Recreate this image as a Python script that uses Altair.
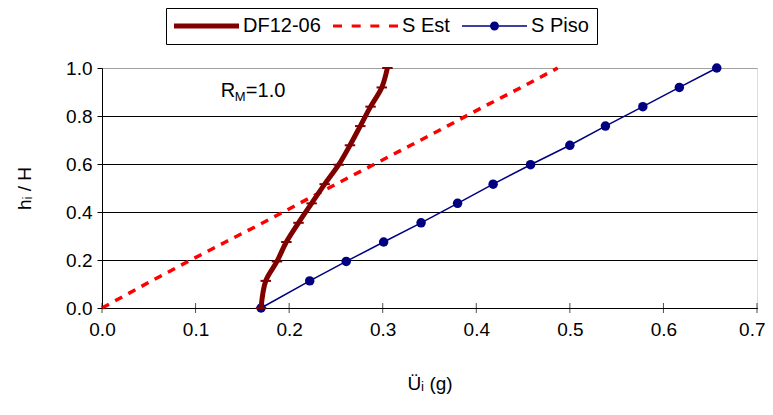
import altair as alt
import pandas as pd

# ---- data ----
heights = [0.0, 0.113, 0.194, 0.275, 0.355, 0.436, 0.516, 0.597, 0.678, 0.758, 0.839, 0.919, 1.0]
df12_06 = [0.170, 0.175, 0.187, 0.197, 0.210, 0.224, 0.238, 0.253, 0.265, 0.276, 0.287, 0.299, 0.305]
s_est = [0.0, 0.053, 0.092, 0.132, 0.172, 0.211, 0.250, 0.290, 0.330, 0.369, 0.408, 0.448, 0.487]
s_piso = [0.170, 0.222, 0.261, 0.301, 0.341, 0.380, 0.418, 0.458, 0.500, 0.538, 0.578, 0.617, 0.657]
series_names = ["DF12-06", "S Est", "S Piso"]
x_ticks = [0.0, 0.1, 0.2, 0.3, 0.4, 0.5, 0.6, 0.7]
y_ticks = [0.0, 0.2, 0.4, 0.6, 0.8, 1.0]
annotation = ["R", "M", "=1.0"]
x_title = "Üᵢ (g)"
y_title = "hᵢ / H"

FONT = "Liberation Sans"
colors = ["#800000", "#FF0000", "#000080"]

rows = []
for name, vals in zip(series_names, [df12_06, s_est, s_piso]):
    for xv, hv in zip(vals, heights):
        rows.append({"series": name, "acc": xv, "h": hv})
data = pd.DataFrame(rows)
ticks_df = pd.DataFrame({"t": x_ticks})

x_scale = alt.Scale(domain=[0, 0.7], nice=False, zero=False)
y_scale = alt.Scale(domain=[0, 1], nice=False, zero=False)

x_axis = alt.Axis(
    values=x_ticks, format=".1f", title=x_title, grid=False, ticks=False,
    labelFlush=False,
    labelAlign={"condition": {"test": "datum.value >= 0.69", "value": "right"}, "value": "center"},
    labelOffset={"condition": {"test": "datum.value >= 0.69", "value": 8}, "value": 0},
    domainColor="black", labelColor="black", labelFont=FONT, labelFontSize=19,
    labelPadding=12, titleFont=FONT, titleFontSize=19, titleFontWeight="normal",
    titleColor="black", titleX=327.5, titleY=75, titleBaseline="middle",
)
y_axis = alt.Axis(
    values=y_ticks, format=".1f", title=y_title, grid=True, labelFlush=False,
    gridColor={"condition": {"test": "datum.value >= 0.99", "value": "#a0a0a0"}, "value": "black"},
    gridWidth=1, domainColor="black", tickColor="black", tickSize=5,
    labelColor="black", labelFont=FONT, labelFontSize=19, labelPadding=5,
    titleFont=FONT, titleFontSize=19, titleFontWeight="normal", titleColor="black",
    titleX=-78, titleY=120, titleAngle=-90, titleBaseline="middle", titleAlign="center",
)

# legend symbols drawn as filled paths; unit = 10 px (symbolSize 400)
sym_df = "M-3.25,-0.25H3.25V0.25H-3.25Z"
sym_est = ("M-3.25,-0.15H-2.35V0.15H-3.25Z"
           "M-1.383,-0.15H-0.483V0.15H-1.383Z"
           "M0.483,-0.15H1.383V0.15H0.483Z"
           "M2.35,-0.15H3.25V0.15H2.35Z")
sym_piso = ("M-3.25,-0.075H3.25V0.075H-3.25Z"
            "M0.45,0A0.45,0.45 0 1,1 -0.45,0A0.45,0.45 0 1,1 0.45,0Z")

legend = alt.Legend(
    title=None, orient="none", legendX=64, legendY=-60, direction="horizontal",
    strokeColor="black", fillColor="white", padding=8, cornerRadius=0,
    labelFont=FONT, labelFontSize=20, labelColor="black",
    symbolSize=400, symbolOffset=22.5, labelOffset=26.5,
    columnPadding=12, symbolStrokeWidth=0, symbolOpacity=1,
)

base = alt.Chart(data)


def series_line(name, color, width, dash, interp):
    kw = dict(color=color, strokeWidth=width, strokeJoin="round", interpolate=interp)
    if dash:
        kw["strokeDash"] = dash
    return base.transform_filter(f"datum.series === '{name}'").mark_line(**kw).encode(
        x=alt.X("acc:Q", scale=x_scale, axis=x_axis),
        y=alt.Y("h:Q", scale=y_scale, axis=y_axis),
        order=alt.Order("h:Q"),
    )


line_df = series_line("DF12-06", colors[0], 5, None, "catmull-rom")
line_est = series_line("S Est", colors[1], 3.5, [8, 7], "linear")
line_piso = series_line("S Piso", colors[2], 1.5, None, "linear")

df_markers = base.transform_filter("datum.series === 'DF12-06'").mark_point(
    shape="stroke", size=110, strokeWidth=2, color=colors[0], filled=False, opacity=1
).encode(x="acc:Q", y="h:Q")

piso_markers = base.transform_filter("datum.series === 'S Piso'").mark_circle(
    size=90, color=colors[2], opacity=1
).encode(x="acc:Q", y="h:Q")

legend_layer = base.transform_filter("false").mark_point(filled=True, opacity=1).encode(
    x="acc:Q", y="h:Q",
    color=alt.Color("series:N", scale=alt.Scale(domain=series_names, range=colors), legend=legend),
    shape=alt.Shape("series:N", scale=alt.Scale(domain=series_names, range=[sym_df, sym_est, sym_piso]), legend=legend),
)

x_cross_ticks = alt.Chart(ticks_df).mark_tick(
    orient="vertical", size=10, thickness=1, color="black"
).encode(x=alt.X("t:Q"), y=alt.datum(0))

ann_data = alt.Data(values=[{}])
ann_r = alt.Chart(ann_data).mark_text(
    text=annotation[0], font=FONT, fontSize=20, align="left", baseline="alphabetic", color="black"
).encode(x=alt.datum(0.127), y=alt.datum(0.879))
ann_m = alt.Chart(ann_data).mark_text(
    text=annotation[1], font=FONT, fontSize=13, align="left", baseline="alphabetic", color="black", dx=14, dy=4
).encode(x=alt.datum(0.127), y=alt.datum(0.879))
ann_v = alt.Chart(ann_data).mark_text(
    text=annotation[2], font=FONT, fontSize=20, align="left", baseline="alphabetic", color="black", dx=25
).encode(x=alt.datum(0.127), y=alt.datum(0.879))

chart = alt.layer(
    line_est,
    line_piso,
    piso_markers,
    line_df,
    df_markers,
    x_cross_ticks,
    legend_layer,
    ann_r, ann_m, ann_v,
).properties(
    width=655, height=240,
    autosize=alt.AutoSizeParams(type="none"),
    padding={"left": 94, "top": 60, "right": 8, "bottom": 90},
).configure_view(stroke=None).configure(font=FONT, background="white")

chart.save("out.html", embed_options={"renderer": "svg", "actions": False})
